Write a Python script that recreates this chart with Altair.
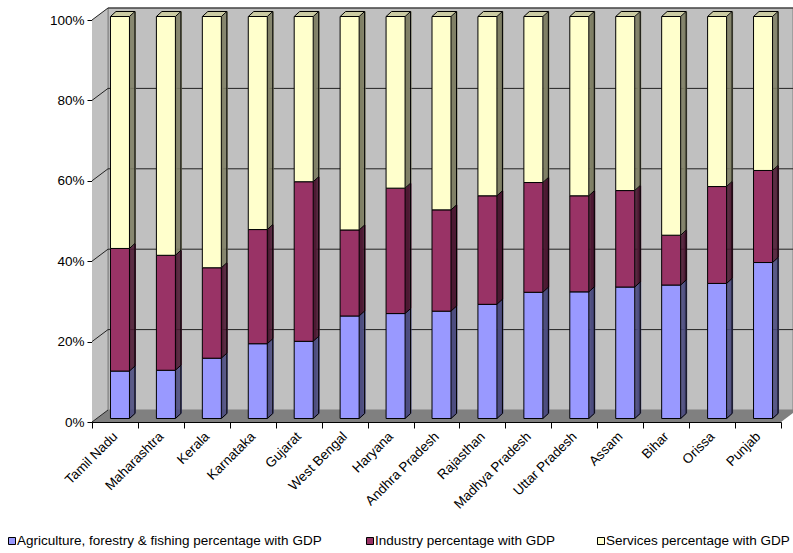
import altair as alt
import pandas as pd

# ---------------- data ----------------
states = ["Tamil Nadu", "Maharashtra", "Kerala", "Karnataka", "Gujarat", "West Bengal",
          "Haryana", "Andhra Pradesh", "Rajasthan", "Madhya Pradesh", "Uttar Pradesh",
          "Assam", "Bihar", "Orissa", "Punjab"]
agri = [11.8, 12.0, 15.0, 18.6, 19.2, 25.5, 26.1, 26.7, 28.4, 31.4, 31.5, 32.7, 33.2, 33.6, 38.8]
industry = [30.5, 28.6, 22.5, 28.4, 39.7, 21.4, 31.2, 25.2, 27.0, 27.3, 23.9, 24.0, 12.4, 24.1, 22.9]
services = [57.7, 59.4, 62.5, 53.0, 41.1, 53.1, 42.7, 48.1, 44.6, 41.3, 44.6, 43.3, 54.4, 42.3, 38.3]
series_names = ["Agriculture, forestry & fishing percentage with GDP",
                "Industry percentage with GDP",
                "Services percentage with GDP"]
y_ticks = [0, 0.2, 0.4, 0.6, 0.8, 1.0]

# ---------------- style ----------------
front_colors = ["#9999ff", "#993366", "#ffffcc"]
side_colors = ["#4d4d80", "#4d1933", "#808066"]
top_color = "#cccca3"
wall_color = "#c0c0c0"
floor_color = "#808080"
FONT = "Liberation Sans"
FS = 13.5

W, H = 689, 402
DX, DY = 16, 12          # wall depth
BW = 19                  # bar front width
BX = 5                   # bar offset from band centre
BD_X, BD_Y = 5.5, 5      # bar depth
BY = -3.5                # bar vertical offset

# ---------------- tables ----------------
rows = []
for i, s in enumerate(states):
    vals = [agri[i], industry[i], services[i]]
    tot = sum(vals)
    cum = 0.0
    for j, v in enumerate(vals):
        start = cum / tot
        cum += v
        rows.append({"state": s, "series": series_names[j], "start": start, "end": cum / tot,
                     "front": front_colors[j], "side": side_colors[j]})
seg = pd.DataFrame(rows)
bounds = pd.concat([seg[["state", "end"]].rename(columns={"end": "v"}),
                    pd.DataFrame({"state": states, "v": [0.0] * len(states)})])
full = pd.DataFrame({"state": states, "lo": [0.0] * len(states), "hi": [1.0] * len(states)})
one = pd.DataFrame({"k": [0]})
ticks_df = pd.DataFrame({"v": y_ticks})

xs = alt.Scale(domain=states, paddingInner=0, paddingOuter=0)
ys = alt.Scale(domain=[0, 1], nice=False, zero=False)


def X(axis=None):
    return alt.X("state:N", scale=xs, axis=axis, sort=states)


def Yf(field, axis=None):
    return alt.Y(field, scale=ys, axis=axis)


layers = []

# back wall
layers.append(alt.Chart(one).mark_rect(color=wall_color, stroke="#808080", strokeWidth=1).encode(
    x=alt.value(DX), x2=alt.value(W + 12), y=alt.value(-DY), y2=alt.value(H - DY)))

# left wall
lw = pd.DataFrame({"px": [0, DX], "yb": [H, H - DY], "yt": [0, -DY]})
layers.append(alt.Chart(lw).mark_area(color=wall_color).encode(
    x=alt.X("px:Q", scale=None, axis=None),
    y=alt.Y("yb:Q", scale=None, axis=None),
    y2="yt:Q"))

# floor
fl = pd.DataFrame({"py": [H - DY, H], "xl": [DX, 0], "xr": [W + DX, W]})
layers.append(alt.Chart(fl).mark_area(color=floor_color, orient="horizontal").encode(
    y=alt.Y("py:Q", scale=None, axis=None),
    x=alt.X("xl:Q", scale=None, axis=None),
    x2="xr:Q"))

# left wall border
layers.append(alt.Chart(one).mark_rule(color="#808080").encode(
    x=alt.value(DX), y=alt.value(-DY), y2=alt.value(H - DY)))

# back wall gridlines
layers.append(alt.Chart(ticks_df[ticks_df.v > 0]).mark_rule(color="#222222", yOffset=-DY).encode(
    y=Yf("v:Q"), x=alt.value(DX), x2=alt.value(W + 12)))

# side-wall diagonals
layers.append(alt.Chart(ticks_df).mark_rule(color="#222222", y2Offset=-DY).encode(
    y=Yf("v:Q"), y2="v:Q", x=alt.value(0), x2=alt.value(DX)))

# bar side faces
nk = 6
for k in range(nk):
    off = k * BD_X / (nk - 1)
    dy = -off * BD_Y / BD_X
    layers.append(alt.Chart(seg).mark_rule(strokeWidth=1.4, xOffset=BX + BW / 2 + off + 0.3,
                                           yOffset=BY + dy, y2Offset=BY + dy).encode(
        x=X(), y=Yf("start:Q"), y2="end:Q", color=alt.Color("side:N", scale=None)))

# bar top faces
nj = 6
for j in range(nj):
    off = j * BD_X / (nj - 1)
    dy = -off * BD_Y / BD_X
    layers.append(alt.Chart(full).mark_rule(strokeWidth=1.4, color=top_color,
                                            xOffset=BX - BW / 2 + off, x2Offset=BX + BW / 2 + off,
                                            yOffset=BY + dy, y2Offset=BY + dy).encode(
        x=X(), x2="state:N", y=Yf("hi:Q"), y2="hi:Q"))

# outlines of side & top
layers.append(alt.Chart(full).mark_rule(color="black", strokeWidth=1,
                                        xOffset=BX + BW / 2 + BD_X, yOffset=BY - BD_Y,
                                        y2Offset=BY - BD_Y).encode(
    x=X(), y=Yf("lo:Q"), y2="hi:Q"))
layers.append(alt.Chart(bounds).mark_rule(color="black", strokeWidth=1,
                                          xOffset=BX + BW / 2, x2Offset=BX + BW / 2 + BD_X,
                                          yOffset=BY, y2Offset=BY - BD_Y).encode(
    x=X(), x2="state:N", y=Yf("v:Q"), y2="v:Q"))
layers.append(alt.Chart(full).mark_rule(color="black", strokeWidth=1,
                                        xOffset=BX - BW / 2, x2Offset=BX - BW / 2 + BD_X,
                                        yOffset=BY, y2Offset=BY - BD_Y).encode(
    x=X(), x2="state:N", y=Yf("hi:Q"), y2="hi:Q"))
layers.append(alt.Chart(full).mark_rule(color="black", strokeWidth=1,
                                        xOffset=BX - BW / 2 + BD_X, x2Offset=BX + BW / 2 + BD_X,
                                        yOffset=BY - BD_Y, y2Offset=BY - BD_Y).encode(
    x=X(), x2="state:N", y=Yf("hi:Q"), y2="hi:Q"))

# front faces (with axes)
x_axis = alt.Axis(title=None, tickBand="extent", labelAngle=-45, labelAlign="right",
                  labelBaseline="middle", labelFont=FONT, labelFontSize=FS, labelColor="black",
                  domainColor="black", tickColor="black", tickSize=6, labelPadding=6,
                  grid=False, labelOverlap=False)
y_axis = alt.Axis(title=None, values=y_ticks, format=".0%", labelFont=FONT, labelFontSize=FS,
                  labelColor="black", domainColor="black", tickColor="black", tickSize=5,
                  labelPadding=3, grid=False)
layers.append(alt.Chart(seg).mark_bar(size=BW, xOffset=BX, yOffset=BY, y2Offset=BY,
                                      stroke="black", strokeWidth=1).encode(
    x=X(x_axis), y=Yf("end:Q", y_axis), y2="start:Q",
    color=alt.Color("front:N", scale=None)))

# legend (manual)
leg = pd.DataFrame({"name": series_names, "col": front_colors, "lx": [12 - 92, 370 - 92, 601 - 92]})
layers.append(alt.Chart(leg).mark_square(size=49, stroke="black", strokeWidth=1, opacity=1).encode(
    x=alt.X("lx:Q", scale=None, axis=None), y=alt.value(541 - 20),
    fill=alt.Color("col:N", scale=None)))
layers.append(alt.Chart(leg).mark_text(align="left", baseline="middle", font=FONT, fontSize=FS,
                                       dx=5, color="black").encode(
    x=alt.X("lx:Q", scale=None, axis=None), y=alt.value(541 - 20), text="name:N"))

chart = alt.layer(*layers).resolve_scale(x="independent", y="independent").properties(
    width=W, height=H,
    autosize=alt.AutoSizeParams(type="none"),
    padding={"left": 92, "top": 20, "right": 12, "bottom": 131},
).configure_view(stroke=None).configure(background="white")

chart.save("out.html", embed_options={"renderer": "svg", "actions": False})
